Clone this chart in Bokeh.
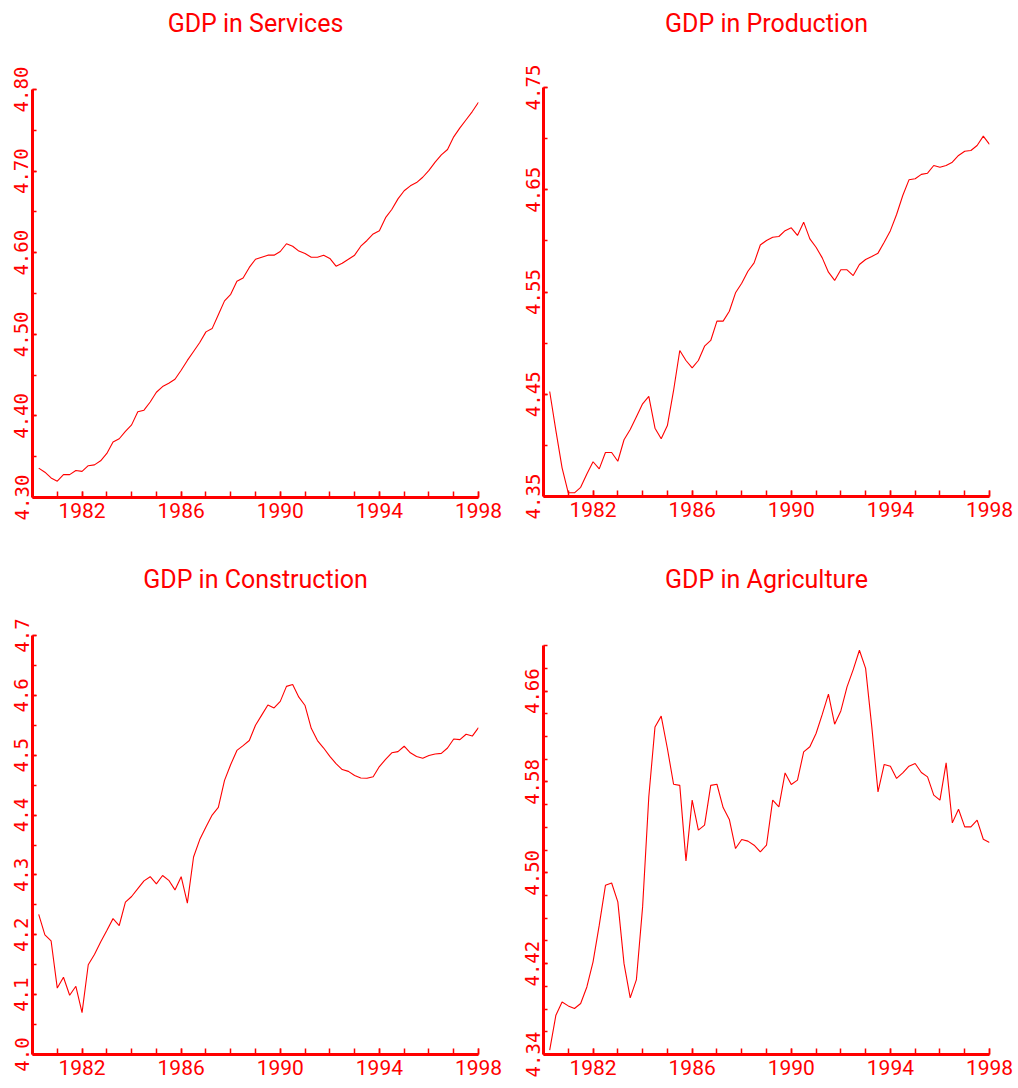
from bokeh.plotting import figure
from bokeh.layouts import column, row
from bokeh.models import Range1d, FixedTicker, LinearAxis
from bokeh.embed import file_html
from bokeh.resources import INLINE

# Quarterly log-GDP series by sector, 1980Q1 .. 1997Q4 (stamped at quarter end)
quarters = [1980 + (i + 1) / 4 for i in range(72)]

year_labels = ["1982", "1986", "1990", "1994", "1998"]

services = [
    4.336, 4.331, 4.324, 4.320, 4.328, 4.328, 4.333, 4.332,
    4.339, 4.340, 4.345, 4.354, 4.368, 4.372, 4.381, 4.389,
    4.405, 4.407, 4.417, 4.429, 4.436, 4.440, 4.445, 4.456,
    4.468, 4.479, 4.490, 4.503, 4.507, 4.524, 4.541, 4.549,
    4.565, 4.569, 4.582, 4.592, 4.5945, 4.597, 4.597, 4.6015,
    4.611, 4.608, 4.602, 4.599, 4.5945, 4.5945, 4.597, 4.593,
    4.5835, 4.587, 4.592, 4.597, 4.608, 4.615, 4.623, 4.627,
    4.643, 4.653, 4.666, 4.676, 4.682, 4.686, 4.6925, 4.701,
    4.711, 4.720, 4.7265, 4.742, 4.753, 4.763, 4.773, 4.7845,
]

production = [
    4.4527, 4.4145, 4.378, 4.3536, 4.3536, 4.359, 4.372, 4.384,
    4.377, 4.393, 4.393, 4.3845, 4.4055, 4.4155, 4.428, 4.4406,
    4.448, 4.4168, 4.4064, 4.4194, 4.4537, 4.4928, 4.483, 4.4758,
    4.483, 4.497, 4.5026, 4.5215, 4.5215, 4.5312, 4.5492, 4.5586,
    4.5703, 4.5785, 4.596, 4.6004, 4.6036, 4.6043, 4.610, 4.6128,
    4.6053, 4.6183, 4.602, 4.5938, 4.5834, 4.5694, 4.5613, 4.5717,
    4.5717, 4.5661, 4.5769, 4.5818, 4.5847, 4.588, 4.5987, 4.610,
    4.6258, 4.6444, 4.6597, 4.6607, 4.665, 4.6662, 4.6737, 4.672,
    4.6737, 4.677, 4.6835, 4.6877, 4.6884, 4.6933, 4.7024, 4.6943,
]

construction = [
    4.234, 4.200, 4.190, 4.111, 4.129, 4.099, 4.114, 4.070,
    4.150, 4.167, 4.188, 4.207, 4.227, 4.2155, 4.2545, 4.264,
    4.277, 4.290, 4.297, 4.285, 4.299, 4.291, 4.275, 4.297,
    4.253, 4.330, 4.359, 4.380, 4.400, 4.413, 4.458, 4.4845,
    4.508, 4.516, 4.5245, 4.550, 4.567, 4.584, 4.579, 4.590,
    4.615, 4.618, 4.597, 4.583, 4.545, 4.5245, 4.512, 4.498,
    4.486, 4.476, 4.473, 4.466, 4.462, 4.4616, 4.464, 4.481,
    4.493, 4.504, 4.506, 4.515, 4.504, 4.498, 4.495, 4.4995,
    4.502, 4.503, 4.512, 4.527, 4.526, 4.535, 4.532, 4.546,
]

agriculture = [
    4.3438, 4.3746, 4.3863, 4.3828, 4.3805, 4.3849, 4.3995, 4.4216,
    4.4539, 4.489, 4.491, 4.4744, 4.420, 4.3899, 4.406, 4.470,
    4.567, 4.6285, 4.638, 4.6095, 4.578, 4.577, 4.5105, 4.564,
    4.5376, 4.542, 4.577, 4.578, 4.5575, 4.547, 4.5214, 4.5293,
    4.5279, 4.5243, 4.5185, 4.5243, 4.564, 4.558, 4.588, 4.5778,
    4.5816, 4.6065, 4.611, 4.6227, 4.6395, 4.6573, 4.6309, 4.6426,
    4.6638, 4.679, 4.696, 4.680, 4.6285, 4.5713, 4.5954, 4.5939,
    4.5831, 4.588, 4.5939, 4.5963, 4.5884, 4.5845, 4.5684, 4.564,
    4.5968, 4.544, 4.556, 4.5405, 4.5405, 4.5464, 4.5296, 4.5267,
]

services_ticks = ["4.30", "4.40", "4.50", "4.60", "4.70", "4.80"]
production_ticks = ["4.35", "4.45", "4.55", "4.65", "4.75"]
construction_ticks = ["4.0", "4.1", "4.2", "4.3", "4.4", "4.5", "4.6", "4.7"]
agriculture_ticks = ["4.34", "4.42", "4.50", "4.58", "4.66"]

RED = "#ff0000"
TITLE_FONT = "Roboto, sans-serif"
LABEL_FONT = "Roboto, sans-serif"
NUM_FONT = "'DejaVu Sans Mono', monospace"
CELL_W = 509
FRAME_W = 446


def panel(title, values, tick_labels, y_lo, y_hi, axis_top, minor_step,
          left, top, frame_h, bottom, title_gap):
    p = figure(
        frame_width=FRAME_W, frame_height=frame_h,
        min_border_left=left, min_border_right=CELL_W - left - FRAME_W,
        min_border_top=top, min_border_bottom=bottom,
        x_range=Range1d(1980, 1998), y_range=Range1d(y_lo, y_hi),
        output_backend="svg", toolbar_location=None,
        background_fill_color="white", border_fill_color="white",
    )
    p.outline_line_color = None
    p.grid.visible = False

    p.line(quarters, values, line_color=RED, line_width=1.1)

    # x axis: yearly ticks, labels every fourth year
    xa = p.xaxis[0]
    years = list(range(1980, 1999))
    xa.ticker = FixedTicker(ticks=[int(s) for s in year_labels], minor_ticks=years)
    xa.major_label_overrides = {int(s): s for s in year_labels}
    # y axis: labelled ticks plus unlabelled intermediate ticks
    ya = p.yaxis[0]
    n = round((axis_top - y_lo) / minor_step)
    minor = [round(y_lo + k * minor_step, 3) for k in range(n + 1)]
    ya.ticker = FixedTicker(ticks=[float(s) for s in tick_labels], minor_ticks=minor)
    ya.major_label_overrides = {float(s): s for s in tick_labels}
    ya.major_label_orientation = "vertical"
    ya.bounds = (y_lo, axis_top)

    for ax in (xa, ya):
        ax.axis_line_color = RED
        ax.axis_line_width = 3
        ax.major_tick_line_color = RED
        ax.minor_tick_line_color = RED
        ax.major_tick_line_width = 1.5
        ax.minor_tick_line_width = 1.5
        ax.major_tick_out = 0
        ax.minor_tick_out = 0
        ax.major_label_text_color = RED
    xa.major_tick_in = 6
    xa.minor_tick_in = 6
    ya.major_tick_in = 4
    ya.minor_tick_in = 4
    xa.major_label_text_font = LABEL_FONT
    xa.major_label_text_font_size = "21px"
    xa.major_label_standoff = 5
    ya.major_label_text_font = NUM_FONT
    ya.major_label_text_font_size = "19px"
    ya.major_label_standoff = 4

    # panel heading: a bare axis along the top that only carries its label
    heading = LinearAxis(
        ticker=FixedTicker(ticks=[]),
        axis_label=title,
        axis_line_color=None,
        major_tick_in=0, major_tick_out=0,
        minor_tick_in=0, minor_tick_out=0,
        major_label_standoff=0,
        axis_label_standoff=title_gap,
        axis_label_text_color=RED,
        axis_label_text_font=TITLE_FONT,
        axis_label_text_font_style="normal",
        axis_label_text_font_size="25px",
    )
    p.add_layout(heading, "above")
    return p


# top row shares a frame top at y=87, bottom row at y=635
p1 = panel("GDP in Services", services, services_ticks, 4.30, 4.8025, 4.80, 0.05,
           left=32, top=87, frame_h=410, bottom=47, title_gap=50)
p2 = panel("GDP in Production", production, production_ticks, 4.35, 4.75, 4.75, 0.05,
           left=34, top=87, frame_h=409, bottom=48, title_gap=50)
p3 = panel("GDP in Construction", construction, construction_ticks, 4.0, 4.7, 4.7, 0.05,
           left=32, top=91, frame_h=419, bottom=34, title_gap=42)
p4 = panel("GDP in Agriculture", agriculture, agriculture_ticks, 4.34, 4.709, 4.70, 0.02,
           left=34, top=91, frame_h=419, bottom=34, title_gap=42)

layout = column(row(p1, p2, spacing=0), row(p3, p4, spacing=0), spacing=0)

open("out.html", "w").write(file_html(layout, INLINE))
